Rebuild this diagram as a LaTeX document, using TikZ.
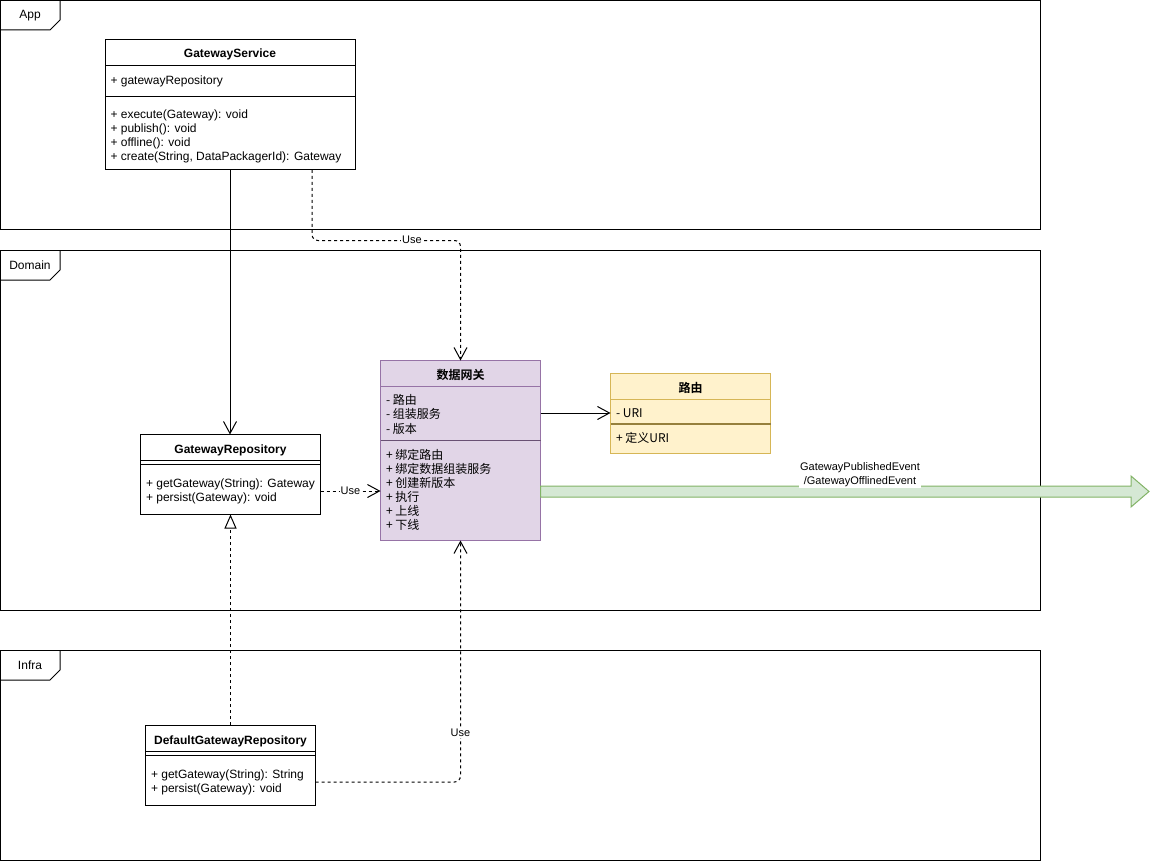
\documentclass[tikz,border=0pt]{standalone}
\usepackage{fontspec}
\setmainfont{Liberation Sans}
\newfontfamily\cjk{Noto Sans CJK SC}[BoldFont={Noto Sans CJK SC Bold}]
\usetikzlibrary{arrows.meta,calc}

\definecolor{gwfill}{HTML}{E1D5E7}
\definecolor{gwline}{HTML}{9673A6}
\definecolor{rtfill}{HTML}{FFF2CC}
\definecolor{rtline}{HTML}{D6B656}
\definecolor{evfill}{HTML}{D5E8D4}
\definecolor{evline}{HTML}{82B366}

\begin{document}
\begin{tikzpicture}[x=1pt, y=-1pt, line width=1pt,
  frame/.style={draw=black, line width=1pt},
  framelbl/.style={inner sep=0pt, font=\fontsize{12}{14}\selectfont},
  cls/.style={draw=black, fill=white, line width=1pt, anchor=north west, inner sep=0pt, outer sep=0pt},
  txt/.style={anchor=base west, inner sep=0pt, font=\fontsize{12}{14}\selectfont},
  ctxt/.style={anchor=base west, inner sep=0pt, font=\cjk\fontsize{12}{14}\selectfont},
  title/.style={anchor=base, inner sep=0pt, font=\bfseries\fontsize{12}{14}\selectfont},
  ctitle/.style={anchor=base, inner sep=0pt, font=\cjk\bfseries\fontsize{12}{14}\selectfont},
  elbl/.style={fill=white, inner sep=1pt, font=\fontsize{11}{13}\selectfont},
  assoc/.style={draw=black, line width=1pt, -{Straight Barb[length=12pt,width=13pt]}},
  dep/.style={draw=black, line width=1pt, dash pattern=on 3pt off 3pt, -{Straight Barb[length=12pt,width=13pt]}},
  realize/.style={draw=black, line width=1pt, dash pattern=on 3pt off 3pt, -{Triangle[open, length=14pt, width=12pt, fill=white]}}
]
\useasboundingbox (0,0) rectangle (1151,861);

% ---- package frames ----
\draw[frame] (0.5,0.5) rectangle (1040,230);
\draw[frame] (0.5,30) -- (50,30) -- (60,20) -- (60,0.5);
\node[framelbl] (appLbl) at (30,16) {App};

\draw[frame] (0.5,250) rectangle (1040,610);
\draw[frame] (0.5,280) -- (50,280) -- (60,270) -- (60,250);
\node[framelbl] (domainLbl) at (30,265) {Domain};

\draw[frame] (0.5,650) rectangle (1040,860);
\draw[frame] (0.5,680) -- (50,680) -- (60,670) -- (60,650);
\node[framelbl] (infraLbl) at (30,665) {Infra};

% ---- GatewayService ----
\node[cls, minimum width=250pt, minimum height=130pt] (svc) at (105,40) {};
\draw (svc.north west) ++(0,26) -- ++(250,0);
\draw (svc.north west) ++(0,56.5) -- ++(250,0);
\node[title] (svcT) at (230,58) {GatewayService};
\node[txt] (svcA) at (110,85) {+ gatewayRepository};
\foreach \t [count=\i from 0] in {{+ execute(Gateway): void},{+ publish(): void},{+ offline(): void},{+ create(String, DataPackagerId): Gateway}}
  \node[txt] (svcM\i) at (110,119+14*\i) {\t};

% ---- GatewayRepository ----
\node[cls, minimum width=180pt, minimum height=80pt] (repo) at (140.5,434.5) {};
\draw (repo.north west) ++(0,26) -- ++(180,0);
\draw (repo.north west) ++(0,30) -- ++(180,0);
\node[title] (repoT) at (230.5,453) {GatewayRepository};
\node[txt] (repoM0) at (145.5,487) {+ getGateway(String): Gateway};
\node[txt] (repoM1) at (145.5,501) {+ persist(Gateway): void};

% ---- DefaultGatewayRepository ----
\node[cls, minimum width=170pt, minimum height=80pt] (def) at (145.5,725) {};
\draw (def.north west) ++(0,26) -- ++(170,0);
\draw (def.north west) ++(0,30) -- ++(170,0);
\node[title] (defT) at (230.5,744) {DefaultGatewayRepository};
\node[txt] (defM0) at (150.5,778) {+ getGateway(String): String};
\node[txt] (defM1) at (150.5,792) {+ persist(Gateway): void};

% ---- 数据网关 ----
\node[cls, fill=gwfill, draw=gwline, minimum width=160pt, minimum height=180pt] (gw) at (380.5,360.5) {};
\draw[gwline] (gw.north west) ++(0,26) -- ++(160,0);
\draw[gwline!70!black, line width=1.4pt] (gw.north west) ++(0,80) -- ++(160,0);
\node[ctitle] (gwT) at (460.5,379) {数据网关};
\foreach \t [count=\i from 0] in {{- 路由},{- 组装服务},{- 版本}}
  \node[ctxt] (gwA\i) at (385.5,404+14.5*\i) {\t};
\foreach \t [count=\i from 0] in {{+ 绑定路由},{+ 绑定数据组装服务},{+ 创建新版本},{+ 执行},{+ 上线},{+ 下线}}
  \node[ctxt] (gwM\i) at (385.5,459+14*\i) {\t};

% ---- 路由 ----
\node[cls, fill=rtfill, draw=rtline, minimum width=160pt, minimum height=80pt] (route) at (610.5,373.5) {};
\draw[rtline] (route.north west) ++(0,26) -- ++(160,0);
\draw[rtline!70!black, line width=1.4pt] (route.north west) ++(0,50.5) -- ++(160,0);
\node[ctitle] (routeT) at (690.5,392) {路由};
\node[ctxt] (routeA) at (615.5,417.5) {- URI};
\node[ctxt] (routeM) at (615.5,442) {+ 定义URI};

% ---- connectors ----
\draw[assoc] (svc.south) -- (svc.south |- repo.north);
\draw[dep, rounded corners=6pt] ([xshift=207pt]svc.south west) |- ($(gw.north)+(0,-120)$) -- (gw.north);
\node[elbl] (use1) at (412,240) {Use};

\draw[dep] (repo.east |- 0,491) -- (gw.west |- 0,491) node[elbl, midway] (use2) {Use};

\draw[assoc] (gw.east |- 0,413) -- (route.west |- 0,413);

\draw[realize] (def.north) -- (def.north |- repo.south);

\draw[dep, rounded corners=6pt] (def.east |- 0,782) -| (gw.south);
\node[elbl] (use3) at (460.5,733) {Use};

% ---- published / offlined event ----
\draw[fill=evfill, draw=evline, line width=1pt, line join=miter]
  (gw.east |- 0,486) -- (1131,486) -- (1131,476) -- (1149,491.5)
  -- (1131,507) -- (1131,497) -- (gw.east |- 0,497) -- cycle;
\node[elbl, align=center, font=\fontsize{11}{14}\selectfont] (evLbl) at (860,475)
  {GatewayPublishedEvent\\/GatewayOfflinedEvent};
\end{tikzpicture}
\end{document}
